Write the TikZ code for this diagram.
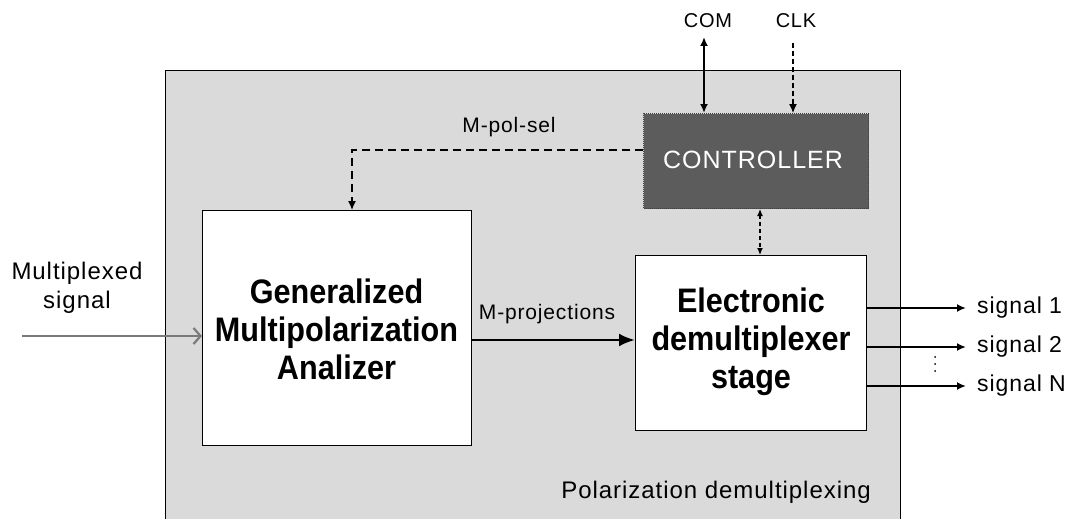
\documentclass[tikz,border=0pt]{standalone}
\usepackage{fontspec}
\setmainfont{Liberation Sans}
\newfontfamily\widefont[LetterSpace=4]{Liberation Sans}
\newfontfamily\boldnarrow[FakeStretch=0.9]{Liberation Sans Bold}
\usetikzlibrary{arrows.meta}
\definecolor{bgfill}{HTML}{DADADA}
\definecolor{ctrlfill}{HTML}{5C5C5C}
\definecolor{ingray}{HTML}{7A7A7A}
\begin{document}
\begin{tikzpicture}[x=1pt,y=-1pt,
  blk/.style={draw=black, line width=1.3pt, fill=white, anchor=north west, inner sep=0pt},
  lbl/.style={font=\widefont\fontsize{22}{26}\selectfont, inner sep=0pt},
  big/.style={font=\boldnarrow\fontsize{34}{38}\selectfont, align=center, inner sep=0pt},
  dsh/.style={dash pattern=on 8pt off 5pt, line width=1.4pt},
  tip/.style={-{Latex[length=9pt,width=8pt]}}
]
\useasboundingbox (0,0) rectangle (1079,519);
% outer region
\node[draw=black, line width=1.4pt, fill=bgfill, anchor=north west, inner sep=0pt,
      minimum width=735pt, minimum height=480pt] (outer) at (165,70) {};
% blocks
\node[blk, minimum width=269pt, minimum height=235pt] (gma) at (202,210) {};
\node[big] (gmatext) at (336.5,329) {Generalized\\Multipolarization\\Analizer};
\node[blk, minimum width=231pt, minimum height=175pt] (demux) at (635,255) {};
\node[big] (demuxtext) at (751,342) {Electronic\\demultiplexer\\stage};
\node[draw=black!75, densely dotted, line width=1pt, fill=ctrlfill, anchor=north west,
      minimum width=225pt, minimum height=95pt, inner sep=0pt] (ctrl) at (643,113) {};
\node[text=white, font=\widefont\fontsize{25}{28}\selectfont, inner sep=0pt] (ctrltext) at (753,160) {CONTROLLER};
% COM / CLK
\node[lbl, font=\widefont\fontsize{20}{24}\selectfont] (com) at (708,21) {COM};
\node[lbl, font=\widefont\fontsize{20}{24}\selectfont] (clk) at (796,21) {CLK};
\coordinate (comtop) at (704,37);
\coordinate (clktop) at (793,43);
\draw[line width=2.2pt, {Latex[length=9pt,width=8pt]}-{Latex[length=9pt,width=8pt]}]
  (comtop) -- (comtop |- ctrl.north);
\draw[line width=1.2pt, dash pattern=on 5pt off 3pt, tip] (clktop) -- (clktop |- ctrl.north);
% controller <-> demux
\coordinate (cd) at (760,0);
\draw[line width=1.2pt, dash pattern=on 4pt off 3pt, {Latex[length=7pt,width=6pt]}-{Latex[length=7pt,width=6pt]}]
  (ctrl.south -| cd) -- (demux.north -| cd);
% M-pol-sel
\coordinate (ps) at (352,150);
\draw[dsh, tip] (ctrl.west |- ps) -| (gma.north -| ps);
\node[lbl, font=\widefont\fontsize{21}{24}\selectfont] (pslbl) at (509,127) {M-pol-sel};
% M-projections
\coordinate (mp) at (0,340);
\draw[line width=2.6pt, -{Latex[length=16pt,width=13pt]}] (gma.east |- mp) -- (demux.west |- mp);
\node[lbl, font=\widefont\fontsize{21}{24}\selectfont] (mplbl) at (547,314) {M-projections};
% input
\coordinate (in) at (22,336);
\draw[ingray, line width=2.6pt, -{Straight Barb[length=7pt,width=16pt,line width=2.2pt]}] (in) -- (gma.west |- in);
\node[lbl, align=center, font=\widefont\fontsize{24}{29}\selectfont] (inlbl) at (77,288) {Multiplexed\\signal};
% outputs
\coordinate (o1) at (966,308);
\coordinate (o2) at (966,347);
\coordinate (o3) at (966,386);
\draw[line width=2.4pt, tip] (demux.east |- o1) -- (o1);
\draw[line width=2.4pt, tip] (demux.east |- o2) -- (o2);
\draw[line width=2.4pt, tip] (demux.east |- o3) -- (o3);
\node[lbl, anchor=west, font=\widefont\fontsize{23}{26}\selectfont] (s1) at (977,308) {signal 1};
\node[lbl, anchor=west, font=\widefont\fontsize{23}{26}\selectfont] (s2) at (977,347) {signal 2};
\node[lbl, anchor=west, font=\widefont\fontsize{23}{26}\selectfont] (s3) at (977,386) {signal N};
\coordinate (dots) at (935,364);
\fill (dots) circle (1pt) ++(0,-7) circle (1pt) ++(0,14) circle (1pt);
% caption
\node[lbl, anchor=east, font=\widefont\fontsize{24}{28}\selectfont] (cap) at (871,492) {Polarization demultiplexing};
\end{tikzpicture}
\end{document}
